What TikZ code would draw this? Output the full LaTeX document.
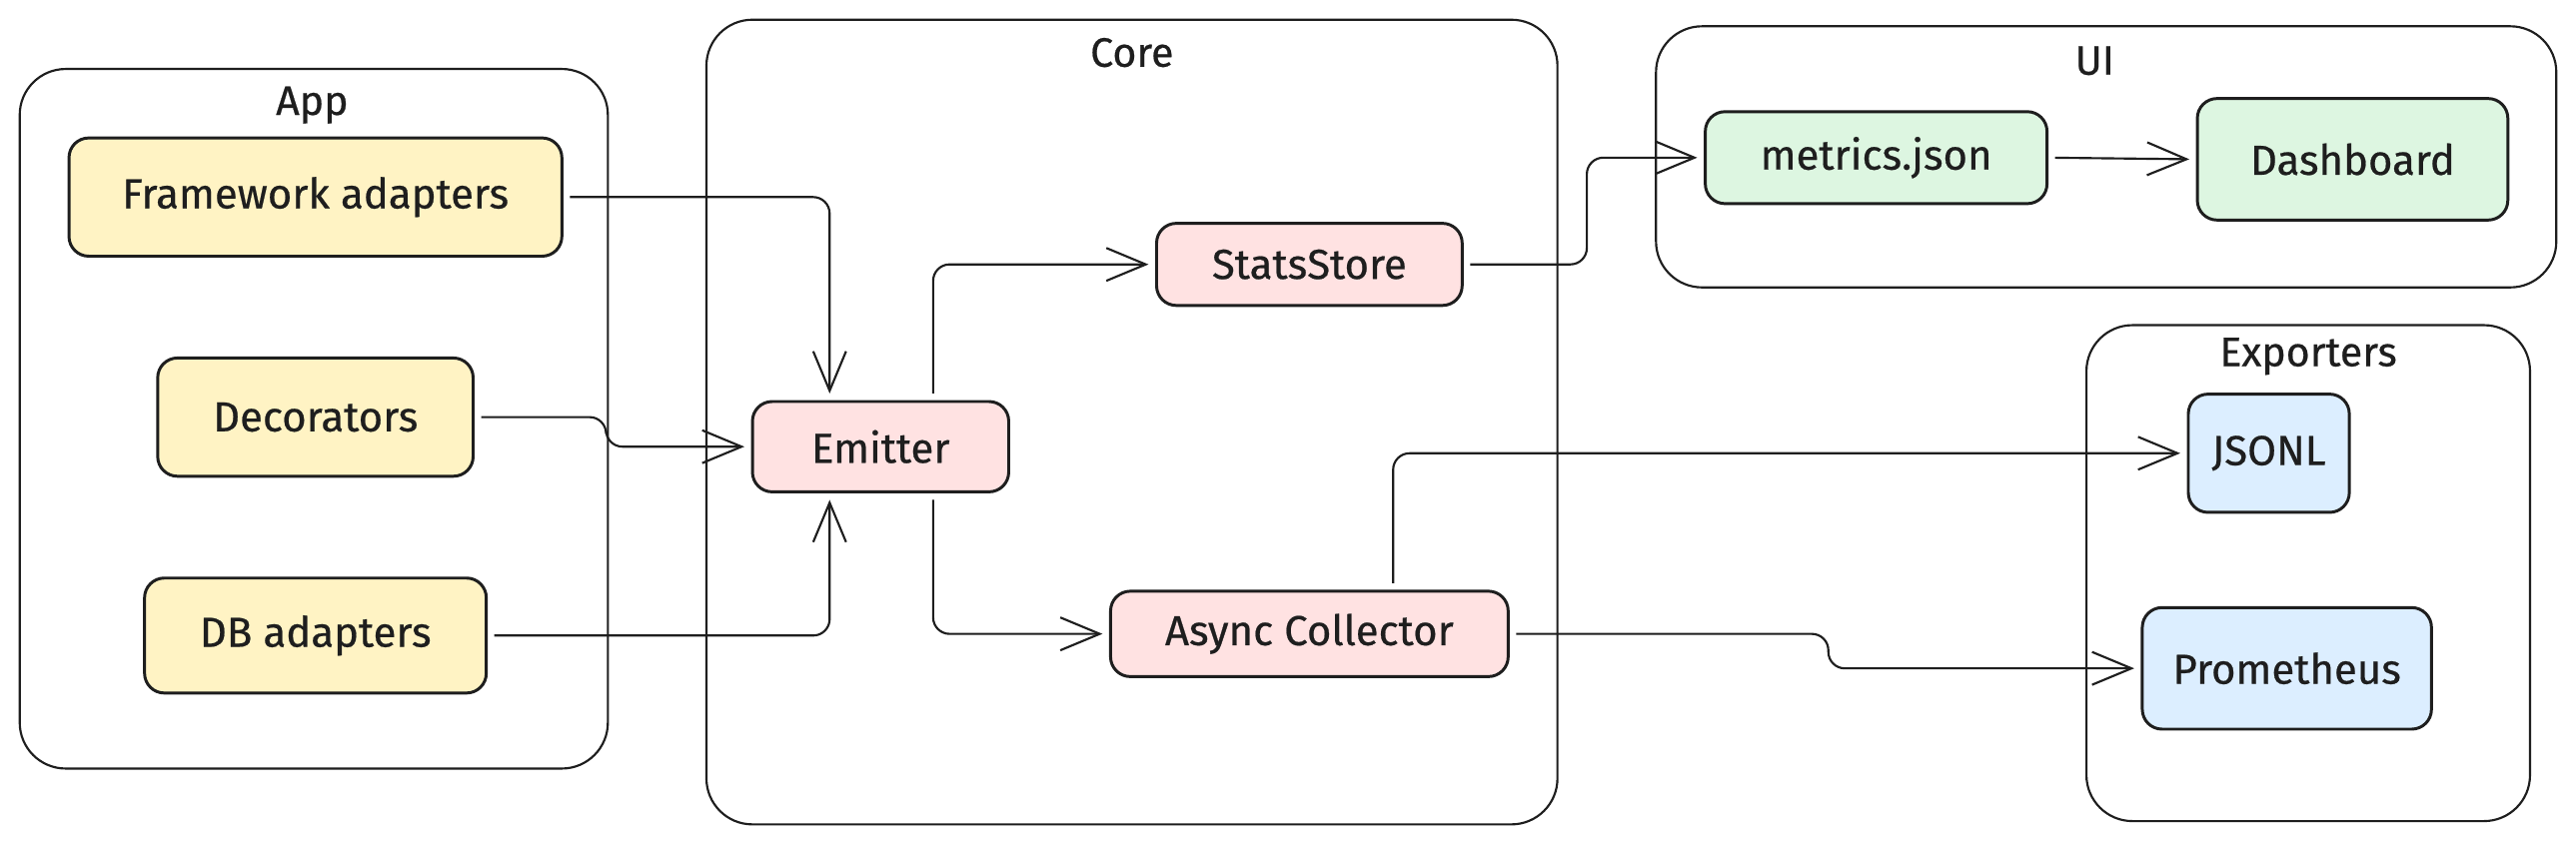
\documentclass[tikz,border=0pt]{standalone}
\usepackage{fontspec}
\setmainfont{Fira Sans}
\newfontfamily\handfont{Fira Sans}[FakeBold=0.5]
\usetikzlibrary{arrows.meta,calc}
\definecolor{yfill}{HTML}{FFF3C4}
\definecolor{rfill}{HTML}{FFE2E2}
\definecolor{gfill}{HTML}{DDF6E1}
\definecolor{bfill}{HTML}{DCEEFF}
\definecolor{ink}{HTML}{1E1E1E}
\begin{document}
\begin{tikzpicture}[x=1pt,y=-1pt,
  cont/.style={draw=ink, line width=1.3pt, rounded corners=28pt, inner sep=0pt},
  box/.style={draw=ink, line width=1.8pt, rounded corners=12pt, inner sep=0pt, text=ink, font=\handfont\fontsize{25.5}{29}\selectfont},
  ttl/.style={text=ink, font=\handfont\fontsize{25}{29}\selectfont, inner sep=0pt},
  arr/.style={draw=ink, line width=1.3pt, rounded corners=10pt, -{Straight Barb[length=24pt,width=20pt,line width=1.3pt]}, shorten <=4pt, shorten >=4pt}]
\path[use as bounding box, fill=white] (0,0) rectangle (1568,514);

% containers
\node[cont, minimum width=358pt, minimum height=426pt] (app) at (191,255) {};
\node[cont, minimum width=518pt, minimum height=490pt] (core) at (689,257) {};
\node[cont, minimum width=548pt, minimum height=159pt] (ui) at (1282,95.5) {};
\node[cont, minimum width=270pt, minimum height=302pt] (exp) at (1405,349) {};

\node[ttl] (tapp) at (190,64) {App};
\node[ttl] (tcore) at (689,32) {Core};
\node[ttl] (tui) at (1275,37) {UI};
\node[ttl] (texp) at (1405,217) {Exporters};

% nodes
\node[box, fill=yfill, minimum width=300pt, minimum height=72pt] (fw) at (192,120) {Framework adapters};
\node[box, fill=yfill, minimum width=192pt, minimum height=72pt] (dec) at (192,254) {Decorators};
\node[box, fill=yfill, minimum width=208pt, minimum height=70pt] (db) at (192,387) {DB adapters};
\node[box, fill=rfill, minimum width=156pt, minimum height=55pt] (em) at (536,272) {Emitter};
\node[box, fill=rfill, minimum width=186pt, minimum height=50pt] (ss) at (797,161) {StatsStore};
\node[box, fill=rfill, minimum width=242pt, minimum height=52pt] (ac) at (797,386) {Async Collector};
\node[box, fill=gfill, minimum width=208pt, minimum height=56pt] (mj) at (1142,96) {metrics.json};
\node[box, fill=gfill, minimum width=189pt, minimum height=74pt] (dash) at (1432,97) {Dashboard};
\node[box, fill=bfill, minimum width=98pt, minimum height=72pt] (js) at (1381,276) {JSONL};
\node[box, fill=bfill, minimum width=176pt, minimum height=74pt] (pr) at (1392,407) {Prometheus};

% connectors
\draw[arr] (fw.east) -| ([xshift=-31pt]em.north);
\draw[arr] (dec.east) -- ++(80,0) |- (em.west);
\draw[arr] (db.east) -| ([xshift=-31pt]em.south);
\draw[arr] ([xshift=32pt]em.north) |- (ss.west);
\draw[arr] ([xshift=32pt]em.south) |- (ac.west);
\draw[arr] (ss.east) -- ++(75,0) |- (mj.west);
\draw[arr] (mj.east) -- (dash.west);
\draw[arr] ([xshift=51pt]ac.north) |- (js.west);
\draw[arr] (ac.east) -- ++(194,0) |- (pr.west);
\end{tikzpicture}
\end{document}
